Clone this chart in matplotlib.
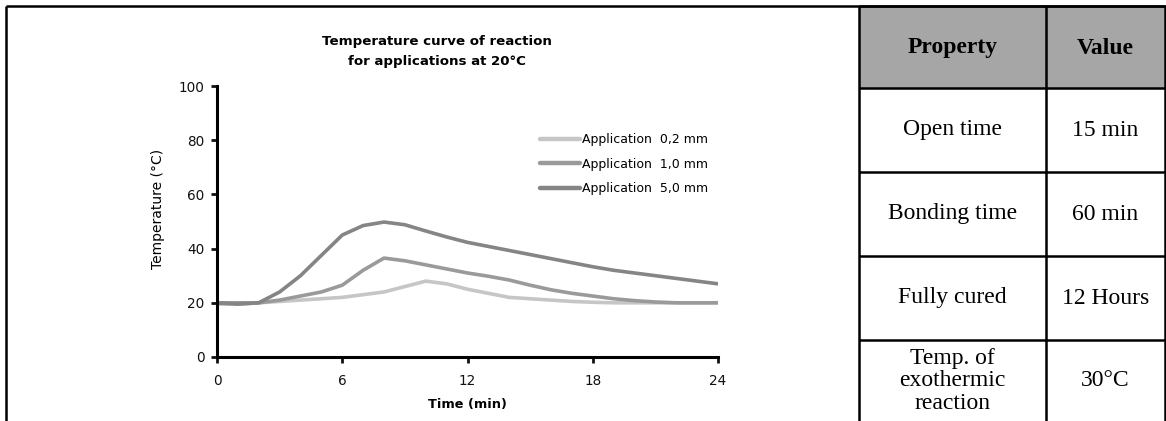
import matplotlib
matplotlib.use("Agg")
import matplotlib.pyplot as plt
from matplotlib.patches import Rectangle
import numpy as np

# ---- data ----
time_min = list(range(0, 25))
app_02 = [19.5, 19.5, 20, 20.5, 21, 21.5, 22, 23, 24, 26, 28, 27, 25, 23.5, 22,
          21.5, 21, 20.5, 20.2, 20, 20, 20, 20, 20, 20]
app_10 = [20, 20, 20, 21, 22.5, 24, 26.5, 32, 36.5, 35.5, 34, 32.5, 31, 29.8, 28.4,
          26.5, 24.8, 23.5, 22.5, 21.5, 20.8, 20.3, 20, 20, 20]
app_50 = [20, 19.5, 20, 24, 30, 37.5, 45, 48.5, 49.8, 48.8, 46.5, 44.3, 42.3, 40.8,
          39.3, 37.8, 36.3, 34.8, 33.3, 32, 31, 30, 29, 28, 27]
series_labels = ["Application  0,2 mm", "Application  1,0 mm", "Application  5,0 mm"]
x_ticks = [0, 6, 12, 18, 24]
y_ticks = [0, 20, 40, 60, 80, 100]

table_header = ["Property", "Value"]
table_props = ["Open time", "Bonding time", "Fully cured", "Temp. of\nexothermic\nreaction"]
table_values = ["15 min", "60 min", "12 Hours", "30°C"]

W, H = 1166, 421
fig = plt.figure(figsize=(W / 100, H / 100), dpi=100)
fig.patch.set_facecolor("white")

def fx(px):
    return px / W

def fy(py):
    return 1 - py / H

ax = fig.add_axes([fx(217), fy(357), fx(718) - fx(217), fy(86) - fy(357)])
sans = "DejaVu Sans"
colors = ["#c6c6c6", "#9a9a9a", "#858585"]
for ys, c, lab in zip([app_02, app_10, app_50], colors, series_labels):
    ax.plot(time_min, ys, color=c, lw=2.6, label=lab, solid_capstyle="round",
            solid_joinstyle="round")

ax.set_xlim(0, 24)
ax.set_ylim(0, 100)
ax.set_xticks(x_ticks)
ax.set_yticks(y_ticks)
for s in ["top", "right"]:
    ax.spines[s].set_visible(False)
for s in ["left", "bottom"]:
    ax.spines[s].set_linewidth(2.2)
ax.tick_params(direction="out", length=4.5, width=2, labelsize=9.8, colors="#111111")
ax.tick_params(axis="x", pad=8)
ax.tick_params(axis="y", pad=4.5)
for lbl in ax.get_xticklabels() + ax.get_yticklabels():
    lbl.set_fontfamily(sans)
ax.set_xlabel("Time (min)", fontsize=9.3, fontweight="bold", fontfamily=sans, labelpad=7)
ax.set_ylabel("Temperature (°C)", fontsize=10, fontfamily=sans)
ax.yaxis.set_label_coords(-0.104, 0.546)

leg = ax.legend(loc="upper left", bbox_to_anchor=(0.645, 0.826), frameon=False,
                prop={"family": sans, "size": 9}, handlelength=3.2, handletextpad=0.12,
                labelspacing=0.93, borderaxespad=0, borderpad=0)
for h in leg.get_lines():
    h.set_linewidth(3.2)

fig.text(fx(437), fy(41), "Temperature curve of reaction", ha="center", va="center",
         fontsize=9.6, fontweight="bold", fontfamily=sans)
fig.text(fx(437), fy(61), "for applications at 20°C", ha="center", va="center",
         fontsize=9.6, fontweight="bold", fontfamily=sans)

# ---- overlay for borders & table ----
ov = fig.add_axes([0, 0, 1, 1], zorder=5)
ov.set_xlim(0, W)
ov.set_ylim(H, 0)
ov.axis("off")
ov.patch.set_alpha(0)

lw = 1.8
ov.plot([6, W], [5.5, 5.5], color="black", lw=lw, solid_capstyle="butt")
ov.plot([6, 6], [5.5, H], color="black", lw=lw, solid_capstyle="butt")

col_x = [859, 1046, 1165]
row_y = [6, 88, 172, 256, 340, H + 2]
ov.add_patch(Rectangle((col_x[0], row_y[0]), col_x[2] - col_x[0], row_y[1] - row_y[0],
                       facecolor="#a6a6a6", edgecolor="none"))
for xv in col_x:
    ov.plot([xv, xv], [row_y[0], row_y[-1]], color="black", lw=lw, solid_capstyle="butt")
for yv in row_y[:-1]:
    ov.plot([col_x[0], col_x[2]], [yv, yv], color="black", lw=lw, solid_capstyle="butt")

serif = "Liberation Serif"
fs = 17
cx0 = (col_x[0] + col_x[1]) / 2
cx1 = (col_x[1] + col_x[2]) / 2
ov.text(cx0, (row_y[0] + row_y[1]) / 2 + 1, table_header[0], ha="center", va="center",
        fontsize=fs, fontweight="bold", fontfamily=serif)
ov.text(cx1, (row_y[0] + row_y[1]) / 2 + 1, table_header[1], ha="center", va="center",
        fontsize=fs, fontweight="bold", fontfamily=serif)
for i, (p, v) in enumerate(zip(table_props, table_values)):
    cy = (row_y[i + 1] + row_y[i + 2]) / 2
    if i == 3:
        cy = 381
    ov.text(cx0, cy, p, ha="center", va="center", fontsize=fs, fontfamily=serif,
            linespacing=1.12)
    ov.text(cx1, cy, v, ha="center", va="center", fontsize=fs, fontfamily=serif)

fig.savefig("out.png", dpi=100)
